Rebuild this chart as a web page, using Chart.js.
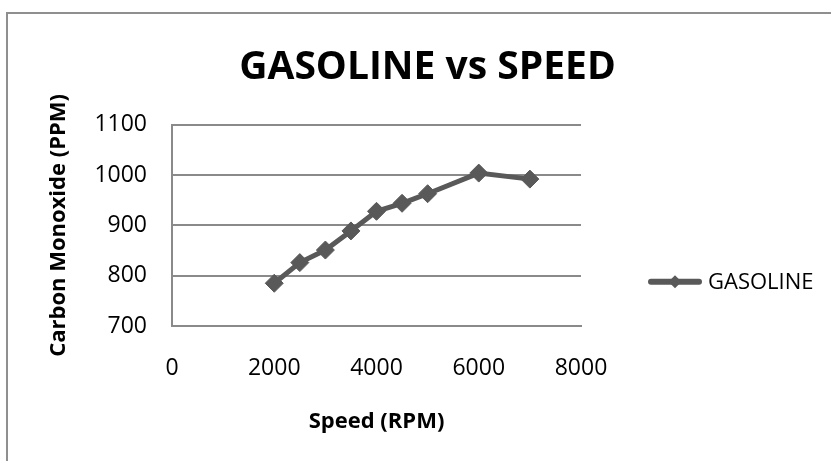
<!DOCTYPE html>
<html>
<head>
<meta charset="utf-8">
<script src="https://cdn.jsdelivr.net/npm/chart.js"></script>
<style>
  html, body { margin: 0; padding: 0; background: #fff; overflow: hidden; }
  #wrap { position: relative; width: 831px; height: 461px; }
  #frame { position: absolute; left: 6px; top: 12px; width: 900px; height: 500px;
           border-top: 2px solid #8f8f8f; border-left: 2px solid #8f8f8f; }
  canvas { position: absolute; left: 0; top: 0; }
</style>
</head>
<body>
<div id="wrap">
  <div id="frame"></div>
  <canvas id="grafico" width="831" height="461"></canvas>
</div>
<script>
// valores
const speeds = [2000, 2500, 3000, 3500, 4000, 4500, 5000, 6000, 7000];
const coValues = [785, 826, 851, 889, 928, 944, 963, 1004, 992];
const seriesName = "GASOLINE";
const chartTitle = "GASOLINE vs SPEED";
const xTitle = "Speed (RPM)";
const yTitle = "Carbon Monoxide (PPM)";

const lineColor = "#595959";
const gridColor = "#8a8a8a";

Chart.defaults.font.family = "'Open Sans', sans-serif";
Chart.defaults.color = "#000";

// legenda no estilo do Excel: linha com losango
const legendaExcel = {
  id: "legendaExcel",
  afterDraw(chart) {
    const ctx = chart.ctx;
    const ds = chart.data.datasets[0];
    const x0 = chart.chartArea.right + 70;
    const y = chart.chartArea.top + 157;
    ctx.save();
    ctx.strokeStyle = ds.borderColor;
    ctx.lineWidth = 6;
    ctx.lineCap = "round";
    ctx.beginPath();
    ctx.moveTo(x0, y);
    ctx.lineTo(x0 + 48, y);
    ctx.stroke();
    ctx.fillStyle = ds.borderColor;
    ctx.beginPath();
    ctx.moveTo(x0 + 24 - 6.5, y);
    ctx.lineTo(x0 + 24, y - 6.5);
    ctx.lineTo(x0 + 24 + 6.5, y);
    ctx.lineTo(x0 + 24, y + 6.5);
    ctx.closePath();
    ctx.fill();
    ctx.fillStyle = "#000";
    ctx.font = "22px 'Open Sans', sans-serif";
    ctx.textBaseline = "middle";
    ctx.textAlign = "left";
    ctx.fillText(ds.label, x0 + 57, y + 1);
    ctx.restore();
  }
};

const semSeparador = v => String(v);

const ctx = document.getElementById("grafico").getContext("2d");
new Chart(ctx, {
  type: "line",
  data: {
    datasets: [{
      label: seriesName,
      data: speeds.map((s, i) => ({ x: s, y: coValues[i] })),
      borderColor: lineColor,
      backgroundColor: lineColor,
      borderWidth: 5,
      pointStyle: "rectRot",
      pointRadius: 9,
      pointBorderWidth: 1,
      pointBackgroundColor: lineColor,
      pointBorderColor: lineColor,
      tension: 0,
      fill: false
    }]
  },
  options: {
    responsive: false,
    devicePixelRatio: 1,
    animation: false,
    layout: { padding: { left: 24, right: 0, top: 0, bottom: 0 } },
    plugins: {
      legend: { display: false },
      tooltip: { enabled: false },
      title: {
        display: true,
        text: chartTitle,
        color: "#000",
        font: { size: 39, weight: "bold" },
        padding: { top: 44, bottom: 34 }
      }
    },
    scales: {
      x: {
        type: "linear",
        position: "bottom",
        min: 0,
        max: 8000,
        ticks: { stepSize: 2000, padding: 29, font: { size: 23 }, callback: semSeparador },
        grid: { display: false, drawTicks: false },
        border: { display: true, color: gridColor, width: 2 },
        title: {
          display: true,
          text: xTitle,
          font: { size: 22, weight: "bold" },
          padding: { top: 0, bottom: 26 }
        },
        afterFit: s => { s.height = 135; }
      },
      y: {
        min: 700,
        max: 1100,
        ticks: { stepSize: 100, padding: 25, font: { size: 23 }, callback: semSeparador },
        grid: { color: gridColor, lineWidth: 2, drawTicks: false },
        border: { display: true, color: gridColor, width: 2 },
        title: {
          display: true,
          text: yTitle,
          font: { size: 22, weight: "bold" },
          padding: { top: 22, bottom: 0 }
        },
        afterFit: s => { s.width = 148; }
      },
      // eixo vazio só para reservar o espaço da legenda à direita
      espaco: {
        type: "linear",
        position: "right",
        display: true,
        ticks: { display: false },
        grid: { display: false, drawTicks: false },
        border: { display: false },
        afterFit: s => { s.width = 250; }
      }
    }
  },
  plugins: [legendaExcel]
});
</script>
</body>
</html>
